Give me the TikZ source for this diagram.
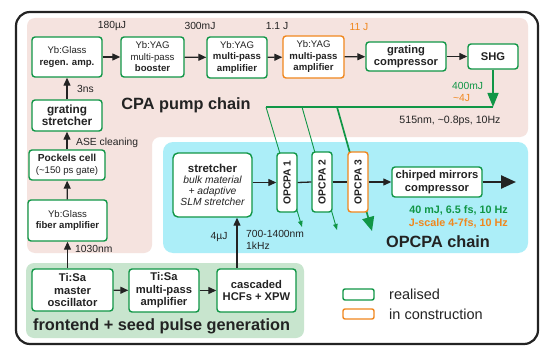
\documentclass[tikz,border=0pt]{standalone}
\usepackage{fontspec}
\setmainfont{Liberation Sans}
\usetikzlibrary{arrows.meta}
\definecolor{cgreen}{RGB}{16,150,70}
\definecolor{corange}{RGB}{240,135,30}
\definecolor{cpink}{RGB}{245,227,223}
\definecolor{cblue}{RGB}{172,238,248}
\definecolor{cgbg}{RGB}{200,229,206}
\definecolor{ctext}{RGB}{35,35,35}
\pgfdeclarelayer{bg}
\pgfsetlayers{bg,main}
\tikzset{
  box/.style={draw=cgreen, line width=1.4pt, fill=white, rounded corners=3pt, align=center,
    inner sep=0pt, text=ctext, font=\fontsize{9.6}{11.5}\selectfont},
  bigbox/.style={box, font=\bfseries\fontsize{11.2}{12.5}\selectfont},
  obox/.style={box, draw=corange},
  arr/.style={-{Triangle[length=8pt,width=7pt]}, line width=1.3pt, draw=ctext},
  lab/.style={font=\fontsize{10.3}{12.3}\selectfont, text=ctext, inner sep=0pt},
  big/.style={font=\bfseries\fontsize{16.3}{19}\selectfont, text=ctext, inner sep=0pt},
  pump/.style={draw=cgreen, line width=0.9pt, -{Triangle[length=6pt,width=4.5pt]}},
}
\begin{document}
\begin{tikzpicture}[x=1pt,y=-1pt]
\useasboundingbox (0,0) rectangle (551,350);
\begin{pgfonlayer}{bg}
  \fill[white] (0,0) rectangle (551,350);
  \draw[line width=2.2pt, ctext, rounded corners=14pt] (16,12) rectangle (538,344);
  \fill[cpink, rounded corners=8pt] (27,18) -- (528,18) -- (528,137) -- (152,137) -- (152,253) -- (27,253) -- cycle;
  \fill[cblue, rounded corners=10pt] (163,142) rectangle (528,253);
  \fill[cgbg, rounded corners=8pt] (26,263) rectangle (304,338);
\end{pgfonlayer}

% CPA pump chain
\node[box] (regen) at (67,57) [minimum width=70pt, minimum height=40pt] {Yb:Glass\\\textbf{regen. amp.}};
\node[box] (boost) at (152.5,57) [minimum width=63pt, minimum height=40pt] {Yb:YAG\\multi-pass\\\textbf{booster}};
\node[box] (amp1) at (237,57.5) [minimum width=60pt, minimum height=41pt] {Yb:YAG\\\textbf{multi-pass}\\\textbf{amplifier}};
\node[obox] (amp2) at (313.5,57) [minimum width=61pt, minimum height=42pt] {Yb:YAG\\\textbf{multi-pass}\\\textbf{amplifier}};
\node[bigbox] (gcomp) at (406,56.5) [minimum width=80pt, minimum height=29pt] {grating\\compressor};
\node[bigbox] (shg) at (493,56.5) [minimum width=50pt, minimum height=25pt] {SHG};
\node[box, font=\bfseries\fontsize{11.8}{12.5}\selectfont] (gstr) at (67,115.5) [minimum width=70pt, minimum height=31pt] {grating\\stretcher};
\node[box] (pock) at (67,165) [minimum width=76pt, minimum height=30pt] {{\bfseries\fontsize{10.2}{11.5}\selectfont Pockels cell}\\(\textasciitilde150 ps gate)};
\node[box] (fiber) at (67.5,220.5) [minimum width=79pt, minimum height=41pt] {Yb:Glass\\\textbf{fiber amplifier}};

% frontend
\node[bigbox] (osc) at (72.5,290) [minimum width=81pt, minimum height=42pt] {Ti:Sa\\master\\oscillator};
\node[bigbox] (tiamp) at (164,290.5) [minimum width=70pt, minimum height=43pt] {Ti:Sa\\multi-pass\\amplifier};
\node[bigbox] (hcf) at (256.5,290.5) [minimum width=79pt, minimum height=43pt] {cascaded\\HCFs + XPW};

% OPCPA
\node[box, rounded corners=5pt, font=\itshape\fontsize{10.3}{11}\selectfont] (str) at (212.5,185) [minimum width=79pt, minimum height=64pt] {{\upshape\bfseries\fontsize{11.5}{13}\selectfont stretcher}\\bulk material\\+ adaptive\\SLM stretcher};
\node[box, font=\bfseries\fontsize{10.3}{12}\selectfont] (o1) at (287,182.5) [minimum width=20pt, minimum height=59pt] {\rotatebox{90}{OPCPA 1}};
\node[box, font=\bfseries\fontsize{10.3}{12}\selectfont] (o2) at (322,182) [minimum width=20pt, minimum height=60pt] {\rotatebox{90}{OPCPA 2}};
\node[obox, font=\bfseries\fontsize{10.3}{12}\selectfont] (o3) at (358,182) [minimum width=20pt, minimum height=60pt] {\rotatebox{90}{OPCPA 3}};
\node[bigbox] (cmc) at (437,182) [minimum width=90pt, minimum height=30pt] {chirped mirrors\\compressor};
\coordinate (out) at (516,182);

% arrows
\draw[arr] (regen) -- (boost);
\draw[arr] (boost) -- (amp1);
\draw[arr] (amp1) -- (amp2);
\draw[arr] (amp2) -- (gcomp);
\draw[arr] (gcomp) -- (shg);
\draw[arr] (gstr) -- (regen);
\draw[arr] (pock) -- (gstr);
\draw[arr] (fiber) -- (pock);
\draw[arr] (fiber.south |- osc.north) -- (fiber.south);
\draw[arr] (osc) -- (tiamp);
\draw[arr] (tiamp) -- (hcf);
\draw[arr] ([xshift=-19.5pt]hcf.north) -- ([xshift=-19.5pt]hcf.north |- str.south);
\draw[arr] (str.east |- o1.west) -- (o1.west);
\draw[line width=1.3pt, ctext] (o1.east) -- (o2.west);
\draw[line width=1.3pt, ctext] (o2.east) -- (o3.west);
\draw[arr] (o3.east) -- (cmc.west);
\draw[ctext, line width=2.4pt, -{Triangle[length=15pt,width=13pt]}] (cmc.east) -- (out);

% pump lines
\coordinate (pj) at (493,107);
\coordinate (p1) at (266,107);
\coordinate (p2) at (302,107);
\coordinate (p3) at (337,107);
\coordinate (t1) at (302,227);
\coordinate (t2) at (337,230);
\coordinate (t3) at (372,231);
\begin{pgfonlayer}{bg}
  \draw[cgreen, line width=1.5pt, -{Triangle[length=14pt,width=11pt]}] (shg.south) -- (pj);
  \draw[cgreen, line width=1.2pt] (pj) -- (p1);
  \draw[pump] (p1) -- (t1);
  \draw[pump] (p2) -- (t2);
  \draw[pump, line width=1.7pt, -{Triangle[length=14pt,width=12pt]}] (p3) -- (t3);
\end{pgfonlayer}

% labels
\node[lab] (l180) at (112,26) {180µJ};
\node[lab] (l300) at (200,26) {300mJ};
\node[lab] (l11) at (277,26) {1.1 J};
\node[lab, text=corange] (l11b) at (359,27) {11 J};
\node[lab, anchor=west] (l3ns) at (77,89) {3ns};
\node[lab, anchor=west] (lase) at (76,143) {ASE cleaning};
\node[lab, anchor=west] (l1030) at (75,249) {1030nm};
\node[lab] (l4uj) at (219,237) {4µJ};
\node[lab, anchor=north west, align=left] (l700) at (246,230) {700-1400nm\\1kHz};
\node[lab, anchor=west, text=cgreen] (l400) at (452,86) {400mJ};
\node[lab, anchor=west, text=corange] (l4j) at (453,98) {\textasciitilde4J};
\node[lab, font=\fontsize{10.6}{12}\selectfont] (l515) at (450,121) {515nm, \textasciitilde0.8ps, 10Hz};
\node[big] (cpa) at (186,105) {CPA pump chain};
\node[big] (opc) at (438,242) {OPCPA chain};
\node[big, anchor=west] (fe) at (33,326) {frontend + seed pulse generation};
\node[lab, anchor=east, text=cgreen, font=\bfseries\fontsize{10.8}{12}\selectfont] (r1) at (508,210) {40 mJ, 6.5 fs, 10 Hz};
\node[lab, anchor=east, text=corange, font=\bfseries\fontsize{10.8}{12}\selectfont] (r2) at (508,223) {J-scale 4-7fs, 10 Hz};

% legend
\node[draw=cgreen, line width=1.4pt, rounded corners=2pt, minimum width=31pt, minimum height=11pt, inner sep=0pt] (lg1) at (358.5,294.5) {};
\node[draw=corange, line width=1.4pt, rounded corners=2pt, minimum width=31pt, minimum height=10pt, inner sep=0pt] (lg2) at (358.5,314) {};
\node[lab, anchor=west, font=\fontsize{14.5}{16}\selectfont] (lt1) at (389,294.5) {realised};
\node[lab, anchor=west, font=\fontsize{14.5}{16}\selectfont] (lt2) at (389,314) {in construction};
\end{tikzpicture}
\end{document}
